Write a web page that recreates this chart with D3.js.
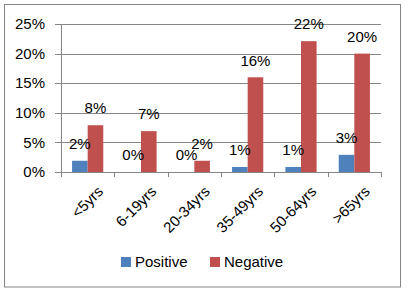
<!DOCTYPE html>
<html>
<head>
<meta charset="utf-8">
<script src="https://cdn.jsdelivr.net/npm/d3@7"></script>
<style>
  body { margin: 0; background: #fff; }
  text { font-family: "Liberation Sans", Arial, sans-serif; fill: #000; }
</style>
</head>
<body>
<svg id="chart"></svg>
<script>
// data (percent)
var categories = ["<5yrs", "6-19yrs", "20-34yrs", "35-49yrs", "50-64yrs", ">65yrs"];
var seriesNames = ["Positive", "Negative"];
var positive = [1.9, 0, 0, 0.85, 0.85, 2.9];
var negative = [7.9, 6.9, 1.9, 16, 22.1, 20];
var yTicks = [0, 5, 10, 15, 20, 25];
var colors = ["#4f81bd", "#c0504d"];

var width = 406, height = 292;
var margin = {top: 24, right: 25, bottom: 120, left: 61};

const svg = d3.select("#chart").attr("width", width).attr("height", height);

// outer frame
svg.append("rect")
  .attr("x", 4.5).attr("y", 4.5)
  .attr("width", 396).attr("height", 282.5)
  .attr("fill", "#fff").attr("stroke", "#868686");

var x = d3.scaleBand()
  .domain(categories)
  .range([margin.left, width - margin.right]);

var x1 = d3.scaleBand()
  .domain(seriesNames)
  .range([0, x.bandwidth()])
  .paddingInner(0)
  .paddingOuter(0.71);

var y = d3.scaleLinear()
  .domain([0, 25])
  .range([172, margin.top]);

// gridlines
svg.append("g")
  .selectAll("line")
  .data(yTicks)
  .join("line")
    .attr("x1", margin.left - 6)
    .attr("x2", width - margin.right)
    .attr("y1", d => Math.round(y(d)) + 0.5)
    .attr("y2", d => Math.round(y(d)) + 0.5)
    .attr("stroke", "#868686");

// y labels
svg.append("g")
  .selectAll("text")
  .data(yTicks)
  .join("text")
    .attr("x", 45)
    .attr("y", d => y(d))
    .attr("dy", "0.35em")
    .attr("text-anchor", "end")
    .style("font-size", "15px")
    .text(d => d + "%");

// y axis line
svg.append("line")
  .attr("x1", margin.left + 0.5).attr("x2", margin.left + 0.5)
  .attr("y1", y(25)).attr("y2", y(0))
  .attr("stroke", "#868686");

// x tick marks
var bounds = categories.map(c => x(c)).concat([width - margin.right]);
svg.append("g")
  .selectAll("line")
  .data(bounds)
  .join("line")
    .attr("x1", d => Math.round(d) + 0.5)
    .attr("x2", d => Math.round(d) + 0.5)
    .attr("y1", y(0))
    .attr("y2", y(0) + 5)
    .attr("stroke", "#868686");

var rows = categories.map((c, i) => ({cat: c, vals: [positive[i], negative[i]]}));

var groups = svg.append("g")
  .selectAll("g")
  .data(rows)
  .join("g")
    .attr("transform", d => "translate(" + x(d.cat) + ",0)");

groups.selectAll("rect")
  .data(d => d.vals.map((v, j) => ({name: seriesNames[j], v: v, j: j})))
  .join("rect")
    .attr("x", d => x1(d.name))
    .attr("width", x1.bandwidth())
    .attr("y", d => y(d.v))
    .attr("height", d => y(0) - y(d.v))
    .attr("fill", d => colors[d.j]);

groups.selectAll("text")
  .data(d => d.vals.map((v, j) => ({name: seriesNames[j], v: v})))
  .join("text")
    .attr("x", d => x1(d.name) + x1.bandwidth() / 2)
    .attr("y", d => y(d.v) - 17)
    .attr("dy", "0.35em")
    .attr("text-anchor", "middle")
    .style("font-size", "15px")
    .text(d => Math.round(d.v) + "%");

// x labels
svg.append("g")
  .selectAll("text")
  .data(categories)
  .join("text")
    .attr("transform", d => "translate(" + (x(d) + x.bandwidth() / 2 + 9) + ",185) rotate(-45)")
    .attr("text-anchor", "end")
    .attr("dy", "0.7em")
    .style("font-size", "15px")
    .text(d => d);

// legend
var legend = svg.append("g")
  .selectAll("g")
  .data(seriesNames)
  .join("g")
    .attr("transform", (d, i) => "translate(" + (121 + i * 89) + ",257)");

legend.append("rect")
  .attr("width", 10).attr("height", 10)
  .attr("fill", (d, i) => colors[i]);

legend.append("text")
  .attr("x", 14).attr("y", 5)
  .attr("dy", "0.35em")
  .style("font-size", "15px")
  .text(d => d);
</script>
</body>
</html>
